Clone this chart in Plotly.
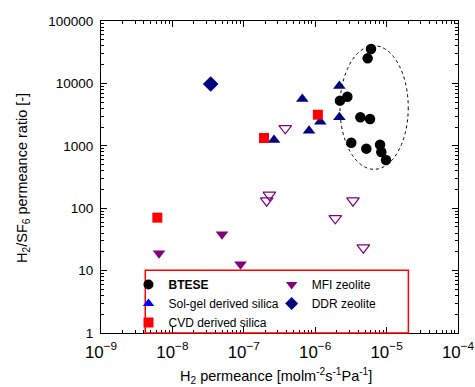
import plotly.graph_objects as go

# ---------------- data ----------------
btese_x = [6.05e-6, 5.43e-6, 2.82e-6, 2.22e-6, 4.29e-6, 5.86e-6, 3.2e-6, 5.2e-6, 8.1e-6, 8.43e-6, 9.8e-6]
btese_y = [35600, 25200, 6120, 5290, 2860, 2690, 1120, 900, 1040, 796, 592]

solgel_x = [6.6e-7, 2.18e-6, 2.18e-6, 1.18e-6, 8.2e-7, 2.65e-7]
solgel_y = [5600, 9080, 2860, 2430, 1745, 1240]

cvd_x = [1.92e-7, 1.09e-6, 6.15e-9]
cvd_y = [1333, 3150, 70.5]

mfi_x = [6.5e-9, 4.95e-8, 9.0e-8]
mfi_y = [18.9, 38.2, 12.6]

mfi_open_x = [3.81e-7, 2.28e-7, 2.09e-7, 3.38e-6, 1.91e-6, 4.72e-6]
mfi_open_y = [1905, 163, 132, 132, 68.9, 23.3]

ddr_x = [3.44e-8]
ddr_y = [9800]

# dashed ellipse around BTESE data (bounding box, data units)
ellipse_x = [2.22e-6, 2.01e-5]
ellipse_y = [420, 40200]

FONT = "Liberation Sans, Arial, sans-serif"
NAVY = "#000080"
PURPLE = "#800080"

fig = go.Figure()

# data traces (no legend)
fig.add_trace(go.Scatter(x=mfi_open_x, y=mfi_open_y, mode="markers", showlegend=False,
                         marker=dict(symbol="triangle-down-open", size=11, color=PURPLE,
                                     line=dict(width=1.2, color=PURPLE))))
fig.add_trace(go.Scatter(x=mfi_x, y=mfi_y, mode="markers", showlegend=False,
                         marker=dict(symbol="triangle-down", size=11, color=PURPLE)))
fig.add_trace(go.Scatter(x=ddr_x, y=ddr_y, mode="markers", showlegend=False,
                         marker=dict(symbol="diamond", size=12, color=NAVY)))
fig.add_trace(go.Scatter(x=solgel_x, y=solgel_y, mode="markers", showlegend=False,
                         marker=dict(symbol="triangle-up", size=11, color=NAVY)))
fig.add_trace(go.Scatter(x=cvd_x, y=cvd_y, mode="markers", showlegend=False,
                         marker=dict(symbol="square", size=10, color="#ff0000")))
fig.add_trace(go.Scatter(x=btese_x, y=btese_y, mode="markers", showlegend=False,
                         marker=dict(symbol="circle", size=10.5, color="black")))

# legend entries
def leg(name, symbol, color, legend, bold=False):
    fig.add_trace(go.Scatter(x=[None], y=[None], mode="markers",
                             name=("<b>%s</b>" % name) if bold else name,
                             legend=legend,
                             marker=dict(symbol=symbol, size=10, color=color)))

leg("BTESE", "circle", "black", "legend", bold=True)
leg("Sol-gel derived silica", "triangle-up", "#0000ff", "legend")
leg("CVD derived silica", "square", "#ff0000", "legend")
leg("MFI zeolite", "triangle-down", PURPLE, "legend2")
leg("DDR zeolite", "diamond", NAVY, "legend2")

fig.add_shape(type="circle", xref="x", yref="y",
              x0=ellipse_x[0], x1=ellipse_x[1], y0=ellipse_y[0], y1=ellipse_y[1],
              line=dict(color="black", width=1, dash="3px,3px"))

fig.add_shape(type="rect", xref="paper", yref="paper",
              x0=0.124, x1=0.861, y0=0.0, y1=0.201,
              line=dict(color="#ff0000", width=1.5), layer="above")

axis_common = dict(type="log", showgrid=False, zeroline=False, showline=True,
                   linecolor="black", linewidth=1, mirror="allticks", automargin=False,
                   ticks="inside", ticklen=6, tickcolor="black", dtick=1,
                   ticklabelstandoff=4,
                   tickfont=dict(family=FONT, size=13.5, color="black"),
                   minor=dict(ticks="inside", ticklen=3, dtick="D1", tickcolor="black",
                              showgrid=False))

fig.update_xaxes(**axis_common, range=[-9, -4], exponentformat="power")
fig.update_yaxes(**axis_common, range=[0, 5], tickformat="d")

title_font = dict(family=FONT, size=14.5, color="black")
fig.add_annotation(text="H<sub>2</sub> permeance [molm<sup>-2</sup>s<sup>-1</sup>Pa<sup>-1</sup>]",
                   xref="paper", yref="paper", x=0.49, y=-0.138, xanchor="center",
                   yanchor="middle", showarrow=False, font=title_font)
fig.add_annotation(text="H<sub>2</sub>/SF<sub>6</sub> permeance ratio [-]",
                   xref="paper", yref="paper", x=-0.2185, y=0.497, xanchor="center",
                   yanchor="middle", textangle=-90, showarrow=False, font=title_font)

leg_font = dict(family=FONT, size=12, color="black")
fig.update_layout(
    template="none",
    width=475, height=387,
    margin=dict(l=101, r=17, t=21, b=54),
    paper_bgcolor="white", plot_bgcolor="white",
    font=dict(family=FONT, color="black"),
    legend=dict(x=0.077, y=0.202, xanchor="left", yanchor="top", bgcolor="rgba(0,0,0,0)",
                font=leg_font, tracegroupgap=0, itemwidth=30, borderwidth=0),
    legend2=dict(x=0.478, y=0.202, xanchor="left", yanchor="top", bgcolor="rgba(0,0,0,0)",
                 font=leg_font, tracegroupgap=0, itemwidth=30, borderwidth=0),
)

fig.write_html("out.html")
